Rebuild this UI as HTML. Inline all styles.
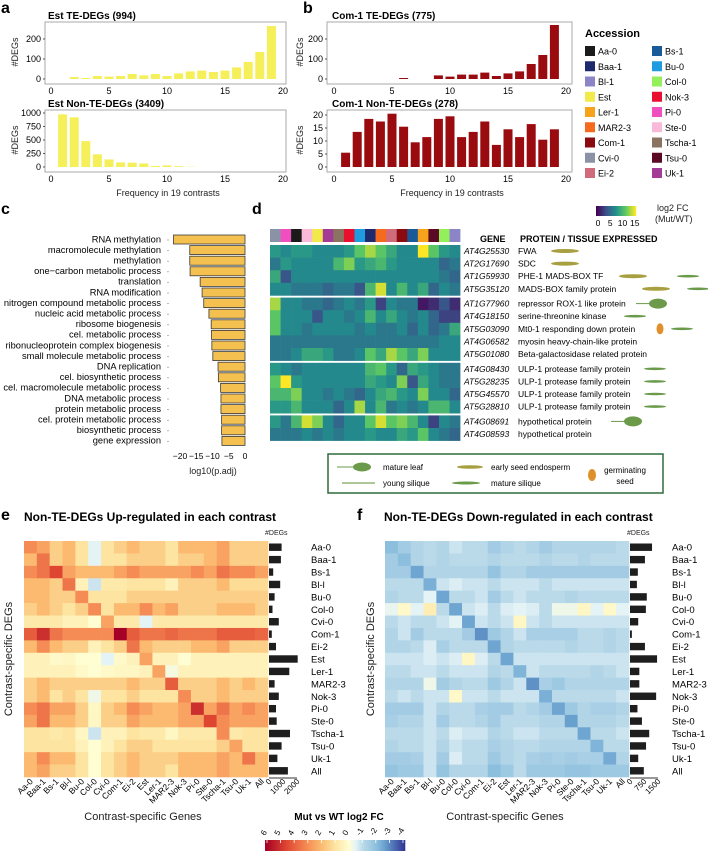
<!DOCTYPE html>
<html><head><meta charset="utf-8"><style>
html,body{margin:0;padding:0;background:#fff}
svg{display:block;font-family:"Liberation Sans",sans-serif}
</style></head><body>
<svg id="fig" width="708" height="851" viewBox="0 0 708 851" xmlns="http://www.w3.org/2000/svg">
<g font-weight="bold" font-size="16">
<text x="1" y="13">a</text>
<text x="303" y="13">b</text>
<text x="1" y="214">c</text>
<text x="252" y="214">d</text>
<text x="1" y="520">e</text>
<text x="357" y="520">f</text>
</g>
<g font-weight="bold" font-size="10">
<text x="48" y="19">Est TE-DEGs (994)</text>
<text x="48" y="107">Est Non-TE-DEGs (3409)</text>
<text x="332" y="19">Com-1 TE-DEGs (775)</text>
<text x="332" y="107">Com-1 Non-TE-DEGs (278)</text>
<text x="585" y="37" font-size="11">Accession</text>
<text x="24" y="521" font-size="12">Non-TE-DEGs Up-regulated in each contrast</text>
<text x="384" y="521" font-size="12">Non-TE-DEGs Down-regulated in each contrast</text>
<text x="339" y="820" text-anchor="middle" font-size="10">Mut vs WT log2 FC</text>
<text x="480" y="242" font-size="9">GENE</text>
<text x="520" y="242" font-size="9">PROTEIN / TISSUE EXPRESSED</text>
</g>
<g font-size="9" fill="#222">
<text x="168" y="196" text-anchor="middle">Frequency in 19 contrasts</text>
<text x="452" y="196" text-anchor="middle">Frequency in 19 contrasts</text>
<text x="213" y="474" text-anchor="middle">log10(p.adj)</text>
<text x="657" y="211">log2 FC</text>
<text x="655" y="222">(Mut/WT)</text>
<text x="143" y="820" text-anchor="middle" font-size="11">Contrast-specific Genes</text>
<text x="505" y="820" text-anchor="middle" font-size="11">Contrast-specific Genes</text>
<text transform="translate(12,659) rotate(-90)" text-anchor="middle" font-size="11">Contrast-specific DEGs</text>
<text transform="translate(374,659) rotate(-90)" text-anchor="middle" font-size="11">Contrast-specific DEGs</text>
<text x="265" y="535" font-size="7">#DEGs</text>
<text x="627" y="535" font-size="7">#DEGs</text>
<text transform="translate(18,52) rotate(-90)" text-anchor="middle">#DEGs</text>
<text transform="translate(18,140) rotate(-90)" text-anchor="middle">#DEGs</text>
<text transform="translate(303,52) rotate(-90)" text-anchor="middle">#DEGs</text>
<text transform="translate(303,140) rotate(-90)" text-anchor="middle">#DEGs</text>
</g>
<g id="tissue-legend">
<rect x="328" y="454" width="335" height="39" fill="none" stroke="#2e6b3a" stroke-width="1.5"/>
<line x1="337" y1="467" x2="355" y2="467" stroke="#6a9a4a" stroke-width="1"/>
<ellipse cx="362" cy="467" rx="9" ry="4.5" fill="#6a9a4a"/>
<text x="383" y="470" font-size="8">mature leaf</text>
<ellipse cx="470" cy="467" rx="13" ry="1.8" fill="#a8a040"/>
<text x="491" y="470" font-size="8">early seed endosperm</text>
<line x1="342" y1="483" x2="375" y2="483" stroke="#7aa85a" stroke-width="1.2"/>
<text x="383" y="486" font-size="8">young silique</text>
<ellipse cx="466" cy="483" rx="14" ry="1.5" fill="#6a9a4a"/>
<text x="491" y="486" font-size="8">mature silique</text>
<ellipse cx="592" cy="475" rx="4" ry="6" fill="#e0902a"/>
<text x="625" y="473" font-size="8" text-anchor="middle">germinating</text>
<text x="625" y="484" font-size="8" text-anchor="middle">seed</text>
</g>
</svg>
<script>
const NS='http://www.w3.org/2000/svg';
const svg=document.getElementById('fig');
function mk(tag,attrs,parent){const e=document.createElementNS(NS,tag);for(const k in attrs)e.setAttribute(k,attrs[k]);(parent||svg).appendChild(e);return e;}

// ---------- panel a/b data ----------
const freqs=[1,2,3,4,5,6,7,8,9,10,11,12,13,14,15,16,17,18,19];
const estTE=[0,10,5,15,12,15,25,18,25,15,28,38,42,35,42,58,85,135,265];
const estNonTE=[975,920,480,235,140,85,80,65,20,30,15,5,0,0,0,0,0,0,0];
const comTE=[0,0,0,0,0,5,0,0,18,12,22,22,32,15,28,38,75,120,270];
const comNonTE=[5.5,13.5,18.5,17.5,20.5,15.5,9.5,11.5,18.5,19.5,11.5,13.5,17.5,8.5,14.5,11.5,16.5,10.5,14.5];
const xTicks=[0,5,10,15,20];
const teTicks=[0,100,200];
const estNonTicks=[0,250,500,750,1000];
const comNonTicks=[0,5,10,15,20];

function barPanel(name,box,x0,vals,yTicks,yMax,yZero,yTop,color){
  mk('rect',{x:box[0],y:box[1],width:box[2]-box[0],height:box[3]-box[1],fill:'none',stroke:'#aaa','stroke-width':1});
  const xs=v=>x0+v*11.6;
  const ys=v=>yZero-(v/yMax)*(yZero-yTop);
  vals.forEach((v,i)=>{
    if(v<=0)return;
    const r=mk('rect',{x:xs(freqs[i])-4.5,y:ys(v),width:9,height:yZero-ys(v),fill:color});
    
    
  });
  yTicks.forEach(t=>{
    const tx=mk('text',{x:box[0]-4,y:ys(t)+3,'text-anchor':'end','font-size':9});tx.textContent=t;
    
    
    mk('line',{x1:box[0]-2,x2:box[0],y1:ys(t),y2:ys(t),stroke:'#555'});
  });
  xTicks.forEach(t=>{
    const tx=mk('text',{x:xs(t),y:box[3]+10,'text-anchor':'middle','font-size':9});tx.textContent=t;
    
    
  });
}
barPanel('est-te',[45,22,286,84],51,estTE,teTicks,200,79,39,'#f5ef5a');
barPanel('est-nonte',[45,110,286,172],51,estNonTE,estNonTicks,1000,167,113,'#f5ef5a');
barPanel('com1-te',[327,22,572,84],334,comTE,teTicks,200,79,39,'#9a0b0f');
barPanel('com1-nonte',[327,110,572,172],334,comNonTE,comNonTicks,20,167,115,'#9a0b0f');

// ---------- accession legend ----------
const legNames1=['Aa-0','Baa-1','Bl-1','Est','Ler-1','MAR2-3','Com-1','Cvi-0','Ei-2'];
const legCols1=['#1a1a1a','#1f2a6e','#8b84c6','#f1ea4a','#f7a21b','#f66a1e','#8b0a0f','#8a93a5','#cf6b7a'];
const legNames2=['Bs-1','Bu-0','Col-0','Nok-3','Pi-0','Ste-0','Tscha-1','Tsu-0','Uk-1'];
const legCols2=['#1a5a99','#1f9ce0','#93f05a','#e8102e','#f04fc0','#f9b9d8','#8b7362','#5a0a25','#a23c96'];
[[legNames1,legCols1,585],[legNames2,legCols2,652]].forEach(([ns,cs,x])=>{
  ns.forEach((n,i)=>{
    const y=51+i*15.25;
    const s=mk('rect',{x:x,y:y-5,width:10,height:10,fill:cs[i]});
    
    
    const t=mk('text',{x:x+13,y:y+3.5,'font-size':9});t.textContent=n;
    
    
  });
});

// ---------- panel c ----------
const goTerms=['RNA methylation','macromolecule methylation','methylation','one\u2212carbon metabolic process','translation','RNA modification','nitrogen compound metabolic process','nucleic acid metabolic process','ribosome biogenesis','cel. metabolic process','ribonucleoprotein complex biogenesis','small molecule metabolic process','DNA replication','cel. biosynthetic process','cel. macromolecule metabolic process','DNA metabolic process','protein metabolic process','cel. protein metabolic process','biosynthetic process','gene expression'];
const goVals=[-22,-17,-17,-16.9,-13.8,-13.2,-12.7,-11.1,-10.4,-10.3,-10.2,-9.9,-8.3,-8.2,-7.5,-7.4,-7.4,-7.2,-7.2,-7.1];
const goTicks=[-20,-15,-10,-5,0];
const cx=v=>245+v*3.25;
goTerms.forEach((g,i)=>{
  const y=239+i*10.6;
  const t=mk('text',{x:161,y:y+3.3,'text-anchor':'end','font-size':9.3});t.textContent=g;
  
  
  mk('circle',{cx:168,cy:y+1,r:0.5,fill:'#444'});
  const r=mk('rect',{x:cx(goVals[i]),y:y-4,width:cx(0)-cx(goVals[i]),height:9,fill:'#f4c150',stroke:'#3a3a3a','stroke-width':0.8});
  
  
});
goTicks.forEach(t=>{
  const tx=mk('text',{x:cx(t),y:459,'text-anchor':'middle','font-size':8.5});tx.textContent=(t<0?'\u2212'+(-t):t);
  
  
});

// ---------- panel d ----------
const topColors=['#8a93a5','#f04fc0','#1a1a1a','#f9b9d8','#f1ea4a','#a23c96','#8b7362','#e8102e','#1f9ce0','#1f2a6e','#f66a1e','#cf6b7a','#8b0a0f','#1a5a99','#f7a21b','#5a0a25','#93f05a','#8b84c6'];
const geneIds=['AT4G25530','AT2G17690','AT1G59930','AT5G35120','AT1G77960','AT4G18150','AT5G03090','AT4G06582','AT5G01080','AT4G08430','AT5G28235','AT5G45570','AT5G28810','AT4G08691','AT4G08593'];
const proteins=['FWA','SDC','PHE-1 MADS-BOX TF','MADS-BOX family protein','repressor ROX-1 like protein','serine-threonine kinase','Mt0-1 responding down protein','myosin heavy-chain-like protein','Beta-galactosidase related protein','ULP-1 protease family protein','ULP-1 protease family protein','ULP-1 protease family protein','ULP-1 protease family protein','hypothetical protein','hypothetical protein'];
const geneGroup=[0,0,0,0,1,1,1,1,1,2,2,2,2,3,3];
const dRow0=[8,7,8,8,7,7,7,8,11,13,11,9,7,7,15,11,8,7];
const dRow1=[6,8,7,7,7,7,10,12,8,9,10,8,7,7,7,7,5,6];
const dRow2=[9,4,7,7,7,7,7,7,7,7,7,7,7,7,7,7,6,5];
const dRow3=[7,7,6,6,6,5,6,6,4,10,14,7,10,7,9,5,7,6];
const dRow4=[13,7,7,6,6,5,6,7,6,8,3,7,6,6,1,2,4,2];
const dRow5=[11,7,7,7,4,7,7,6,7,10,7,9,7,6,7,5,3,3];
const dRow6=[11,7,7,6,7,7,7,7,6,7,6,6,7,5,7,5,6,9];
const dRow7=[6,6,6,6,6,6,6,6,6,6,6,6,6,6,6,6,7,7];
const dRow8=[6,6,7,9,9,8,6,6,7,11,9,13,11,9,12,7,7,7];
const dRow9=[8,7,6,7,7,7,7,7,7,10,11,8,5,9,8,7,6,6];
const dRow10=[11,15,8,7,7,7,7,7,7,9,8,7,12,4,9,7,6,6];
const dRow11=[10,10,12,7,7,6,7,6,5,7,9,10,8,7,12,7,7,5];
const dRow12=[8,8,10,7,7,7,5,7,13,7,10,6,7,6,7,10,10,7];
const dRow13=[8,6,10,14,12,7,5,7,7,11,14,11,12,10,7,3,7,6];
const dRow14=[6,6,6,7,6,7,6,7,7,8,7,7,9,8,11,7,6,5];
const dRows=[dRow0,dRow1,dRow2,dRow3,dRow4,dRow5,dRow6,dRow7,dRow8,dRow9,dRow10,dRow11,dRow12,dRow13,dRow14];
const viridis=[[68,1,84],[59,82,139],[33,145,140],[94,201,98],[253,231,37]];
function vir(v){let t=Math.max(0,Math.min(1,v/15))*4;const i=Math.min(3,Math.floor(t));const f=t-i;const a=viridis[i],b=viridis[i+1];return 'rgb('+a.map((c,k)=>Math.round(c+(b[k]-c)*f)).join(',')+')';}
const dX0=270,dW=10.56,dH=12.6;
topColors.forEach((c,j)=>{
  const r=mk('rect',{x:dX0+j*dW,y:229,width:dW+0.3,height:13,fill:c});
  
  
});
geneIds.forEach((g,i)=>{
  const y=245+i*dH+geneGroup[i]*2.2;
  dRows[i].forEach((v,j)=>{
    const r=mk('rect',{x:dX0+j*dW,y:y,width:dW+0.3,height:dH+0.3,fill:vir(v)});
    
    
  });
  const t=mk('text',{x:464,y:y+9,'font-size':8.5,'font-style':'italic'});t.textContent=g;
  
  
  const p=mk('text',{x:518,y:y+9,'font-size':8.5});p.textContent=proteins[i];
  
  
});
const iconSpecs=[[0,'endo',565],[1,'endo',565],[2,'endo',633],[2,'sil',688],[3,'endo',656],[3,'sil',698],[4,'leaf',658],[5,'sil',635],[6,'seed',660],[6,'sil',682],[9,'sil',655],[10,'sil',655],[11,'sil',655],[12,'sil',655],[13,'leaf',633]];
iconSpecs.forEach(([i,kind,x])=>{
  const y=245+i*dH+geneGroup[i]*2.2+6;
  let e;
  if(kind==='endo')e=mk('ellipse',{cx:x,cy:y,rx:14,ry:2,fill:'#a8a040'});
  else if(kind==='sil')e=mk('ellipse',{cx:x,cy:y,rx:11,ry:1.3,fill:'#6a9a4a'});
  else if(kind==='leaf'){mk('line',{x1:x-22,x2:x-8,y1:y,y2:y,stroke:'#6a9a4a'});e=mk('ellipse',{cx:x,cy:y,rx:9,ry:5,fill:'#6a9a4a'});}
  else e=mk('ellipse',{cx:x,cy:y,rx:3.5,ry:5.5,fill:'#e0902a'});
  
  
});
const dTicks=[0,5,10,15];
for(let k=0;k<40;k++){mk('rect',{x:596+k,y:206,width:1.2,height:10,fill:vir(k/39*15)});}
dTicks.forEach(t=>{
  const tx=mk('text',{x:598+t*2.45,y:226,'text-anchor':'middle','font-size':8.5});tx.textContent=t;
  
  
});

// ---------- panels e/f ----------
const accessions=['Aa-0','Baa-1','Bs-1','Bl-l','Bu-0','Col-0','Cvi-0','Com-1','Ei-2','Est','Ler-1','MAR2-3','Nok-3','Pi-0','Ste-0','Tscha-1','Tsu-0','Uk-1','All'];
const eRow0=[3,2.5,1.5,2,1,-0.5,1,1.5,2,1.5,1.5,1,2,2,2,2.5,1.5,1.5,1.5];
const eRow1=[2,3.5,1.5,2,1,-0.5,1,1,1.5,1.5,1.5,1,1.5,1.5,2,2.5,1.5,1.5,1.5];
const eRow2=[3,3.5,4.5,2.5,2,2,2,2.5,3,2.5,2.5,2.5,2.5,3,2.5,3.5,3,3,2.5];
const eRow3=[2,2,1.5,3.5,0.5,-0.8,0.8,0.8,1,1,1,0.5,1.5,1.5,1.5,2,1.2,1.2,1.2];
const eRow4=[2,2,1.5,1.5,3,1,1,1,1.5,1.5,1.5,1.5,1.5,1.5,1.5,1.5,1.5,1.5,1.5];
const eRow5=[1.5,2,1.5,1,1.5,3,1,2,2,3,2,2.5,1.5,1.5,1.5,2,2,2,1.5];
const eRow6=[0.8,0.8,0.8,0.5,0.5,0,2.5,0.8,0.8,-0.5,0.8,0.8,0.8,0.8,0.8,0.8,0.8,0.8,0.8];
const eRow7=[4,5,3.5,3,3,3,3,6,4,3.5,3.5,3.8,3.5,3.5,3.5,4,4,4,3.8];
const eRow8=[2,3,2,1.5,1.5,0.5,1,1.5,3.5,2,1.5,1.5,1.5,2,2,2.5,1.5,1.5,1.5];
const eRow9=[0.5,0.5,0.2,0.3,0,0,-0.5,0.2,0.5,2.5,0.5,0.5,0,0.5,0.5,0.5,0.5,0.5,0.5];
const eRow10=[0.5,0.5,0.5,0.5,0.2,0,0.2,0.3,0.3,0.5,2.5,-0.2,0.5,0.5,0.5,0.5,0.5,0.5,0.5];
const eRow11=[1.5,2,1.5,1.5,1.5,1.5,1.5,1.5,2,1.5,1.5,4,1.5,1.5,1.5,2,1.5,2,1.5];
const eRow12=[1.5,2,1,1.5,1,-0.3,1,1,1.5,1,1,1,3,1.5,1.5,2,1.5,1.5,1.5];
const eRow13=[3,3.5,2.5,2.5,1.5,0.3,1.5,2,3,2.5,2,2,2.5,5,2.5,3.5,2.5,3,2.5];
const eRow14=[2.5,3.5,2,2,1.5,0.3,1.5,1.5,2.5,2,2,2,2.5,2.5,4.5,3,2.5,2.5,2.5];
const eRow15=[1,1,0.8,1,0.3,-0.8,0.5,0.5,1,0.8,0.8,0.3,0.8,0.8,0.8,3,0.8,1,1];
const eRow16=[1,1,1,1,0.5,0,0.5,1,1.5,1.5,1,1,1,1,1,1.5,2.5,1,1];
const eRow17=[2,3,2,2,1,0,1,1.5,2,1.5,1.5,1.5,2,2,2,2.5,2,3.5,2];
const eRow18=[2,2.5,1.5,1.5,1,0,1,1.5,2,1.5,1.5,1,2,2,2,2.5,2,2,2];
const eRows=[eRow0,eRow1,eRow2,eRow3,eRow4,eRow5,eRow6,eRow7,eRow8,eRow9,eRow10,eRow11,eRow12,eRow13,eRow14,eRow15,eRow16,eRow17,eRow18];
const fRow0=[-2,-1.5,-1.2,-1,-1.2,-0.8,-1,-1,-1.5,-1.2,-1,-1.2,-1.5,-1.2,-1.2,-1.2,-1.2,-1.2,-1];
const fRow1=[-1.5,-2,-1.2,-1,-1.2,-1,-1,-1,-1.2,-1,-1,-1,-1.2,-1,-1,-1.2,-1,-1,-1];
const fRow2=[-1.5,-1.5,-2.5,-1.2,-1.2,-1.2,-1.2,-1.2,-1.8,-1.2,-1.2,-1.5,-1.5,-1.5,-1.5,-1.5,-1.5,-1.5,-1.5];
const fRow3=[-1,-1,-1,-2.3,-0.8,-0.6,-0.8,-0.8,-1,-0.8,-0.8,-0.8,-1,-0.8,-0.8,-0.8,-0.8,-0.8,-0.8];
const fRow4=[-1.2,-1,-1,-0.5,-2.5,-1,-1,-0.8,-1.5,-1,-0.8,-1,-1,-1,-1.2,-1,-1,-1,-1];
const fRow5=[-0.4,0.2,-0.5,0.6,-1,-2.5,-0.8,-0.6,-1,-0.6,-0.5,-0.6,-1,-0.3,-0.3,0.3,-0.5,0.2,-0.5];
const fRow6=[-1,-0.8,-1,-1,-0.8,-0.5,-2.5,-0.8,-1,-0.8,0.3,-0.8,-1,-0.8,-0.8,-0.8,-0.8,-0.8,-0.8];
const fRow7=[-1.2,-0.8,-1.5,-1,-1,-1,-1.5,-2.8,-1.6,-1.2,-0.8,-1.4,-1.4,-1.4,-1.4,-1,-1,-1.2,-1];
const fRow8=[-1.2,-1.2,-1,-0.6,-1.4,-1,-1,-1,-2.5,-1.2,-1,-1,-1,-1,-1.2,-1,-1,-1.2,-1];
const fRow9=[-0.8,-0.8,-0.8,-0.6,-0.8,-0.6,0.3,-0.6,-1,-2.5,-0.8,-0.8,-0.8,-0.8,-0.8,-0.8,-0.8,-0.8,-0.8];
const fRow10=[-1,-1,-0.8,-0.8,-1,-0.8,-0.8,-0.8,-1.2,-1,-2.2,-0.8,-1,-1,-1,-1,-1.2,-1,-0.8];
const fRow11=[-1.2,-1.2,-1.2,-0.3,-1.5,-1.2,-1,-1,-1.6,-1.2,-0.8,-2.8,-1.4,-1.6,-1.2,-1.2,-1.2,-1.2,-1.2];
const fRow12=[-1,-0.8,-1,-0.8,-0.8,0.2,-0.8,-0.8,-1,-0.8,-0.8,-0.8,-2.3,-1,-1,-1,-1,-1,-0.8];
const fRow13=[-1.5,-1.5,-1.5,-0.8,-1.2,-1,-1,-1.4,-1.5,-1.5,-1,-1.2,-1.5,-2.5,-1.6,-1.2,-1.4,-1.4,-1.2];
const fRow14=[-1.4,-1.2,-1.2,-0.8,-1.5,-1,-1,-1.2,-1.5,-1,-1,-1,-1.2,-1.2,-2.6,-1.2,-1.2,-1.2,-1];
const fRow15=[-1,-1,-1,-0.8,-1,-0.6,-0.8,-0.8,-1.2,-1,-0.8,-0.8,-1,-1,-1,-2.5,-1,-1,-0.8];
const fRow16=[-1.2,-1,-1,-0.8,-1.2,-0.8,-1,-1,-1.4,-1.2,-1,-1,-1.2,-1.2,-1.2,-1.2,-2.2,-1,-1];
const fRow17=[-1.5,-1.5,-1.4,-0.8,-1.5,-0.6,-1,-1,-1.6,-1.2,-1,-1.4,-1.5,-1.4,-1.5,-1.4,-1.4,-2.4,-1.2];
const fRow18=[-1.8,-1.6,-1.6,-0.8,-1.8,-1.2,-1.2,-1.2,-2,-1.6,-1,-1.6,-1.6,-1.6,-1.8,-1.8,-1.6,-1.6,-1.6];
const fRows=[fRow0,fRow1,fRow2,fRow3,fRow4,fRow5,fRow6,fRow7,fRow8,fRow9,fRow10,fRow11,fRow12,fRow13,fRow14,fRow15,fRow16,fRow17,fRow18];
const eDegs=[900,850,300,800,400,250,700,200,500,2050,1450,400,700,500,550,1500,900,600,1350];
const fDegs=[1180,800,420,370,900,850,440,100,800,1450,500,500,1400,400,640,1030,860,440,740];
const eBarTicks=[0,1000,2000];
const fBarTicks=[0,750,1500];
const cbTicks=[6,5,4,3,2,1,0,-1,-2,-3,-4];

const rdStops=[[6,[165,0,38]],[4.5,[222,70,50]],[3,[246,140,85]],[2,[251,186,112]],[1,[253,228,160]],[0,[255,253,210]],[-0.5,[228,243,246]],[-1,[186,218,234]],[-2,[140,190,221]],[-2.6,[104,160,206]],[-4,[49,54,149]]];
function rd(v){v=Math.max(-4,Math.min(6,v));for(let i=0;i<rdStops.length-1;i++){const [a,ca]=rdStops[i],[b,cb]=rdStops[i+1];if(v<=a&&v>=b){const f=(a-v)/(a-b);return 'rgb('+ca.map((c,k)=>Math.round(c+(cb[k]-c)*f)).join(',')+')';}}return 'rgb(49,54,149)';}

function heat(prefix,rows,degs,barTicks,gx0,barMax){
  const gx1=gx0+244,gy0=541,cw=244/19,ch=236/19;
  rows.forEach((row,i)=>{
    row.forEach((v,j)=>{
      const r=mk('rect',{x:gx0+j*cw,y:gy0+i*ch,width:cw+0.3,height:ch+0.3,fill:rd(v)});
      
      
    });
    const bw=degs[i]/barMax*28;
    const b=mk('rect',{x:gx1+1,y:gy0+i*ch+2.5,width:bw,height:ch-5,fill:'#1e1e1e'});
    
    
    const t=mk('text',{x:gx1+43,y:gy0+i*ch+ch/2+3.5,'font-size':9.5});t.textContent=accessions[i];
    
    
  });
  accessions.forEach((a,j)=>{
    const cx=gx0+j*cw+cw/2+3;
    const t=mk('text',{transform:'translate('+cx+',782) rotate(-45)','text-anchor':'end','font-size':8.5});t.textContent=a;
    
    
  });
  mk('line',{x1:gx1+1,x2:gx1+1+28,y1:778,y2:778,stroke:'#333'});
  barTicks.forEach(t=>{
    const x=gx1+1+t/barMax*28;
    const tx=mk('text',{transform:'translate('+(x+3)+',782) rotate(-45)','text-anchor':'end','font-size':8});tx.textContent=t;
    
    
  });
}
heat('e',eRows,eDegs,eBarTicks,24,2000);
heat('f',fRows,fDegs,fBarTicks,385,1500);

// bottom colorbar (continuous)
for(let k=0;k<140;k++){mk('rect',{x:265+k,y:840,width:1.3,height:11,fill:rd(6-k/139*10)});}
cbTicks.forEach((t,k)=>{
  const x=267+k*13.6;
  const m=mk('line',{x1:x,x2:x,y1:840,y2:843,stroke:'#fff','stroke-width':0.8});
  
  
  const tx=mk('text',{transform:'translate('+(x-2)+',836) rotate(-60)','font-size':8});tx.textContent=t;
  
  
});
</script>
</body></html>
